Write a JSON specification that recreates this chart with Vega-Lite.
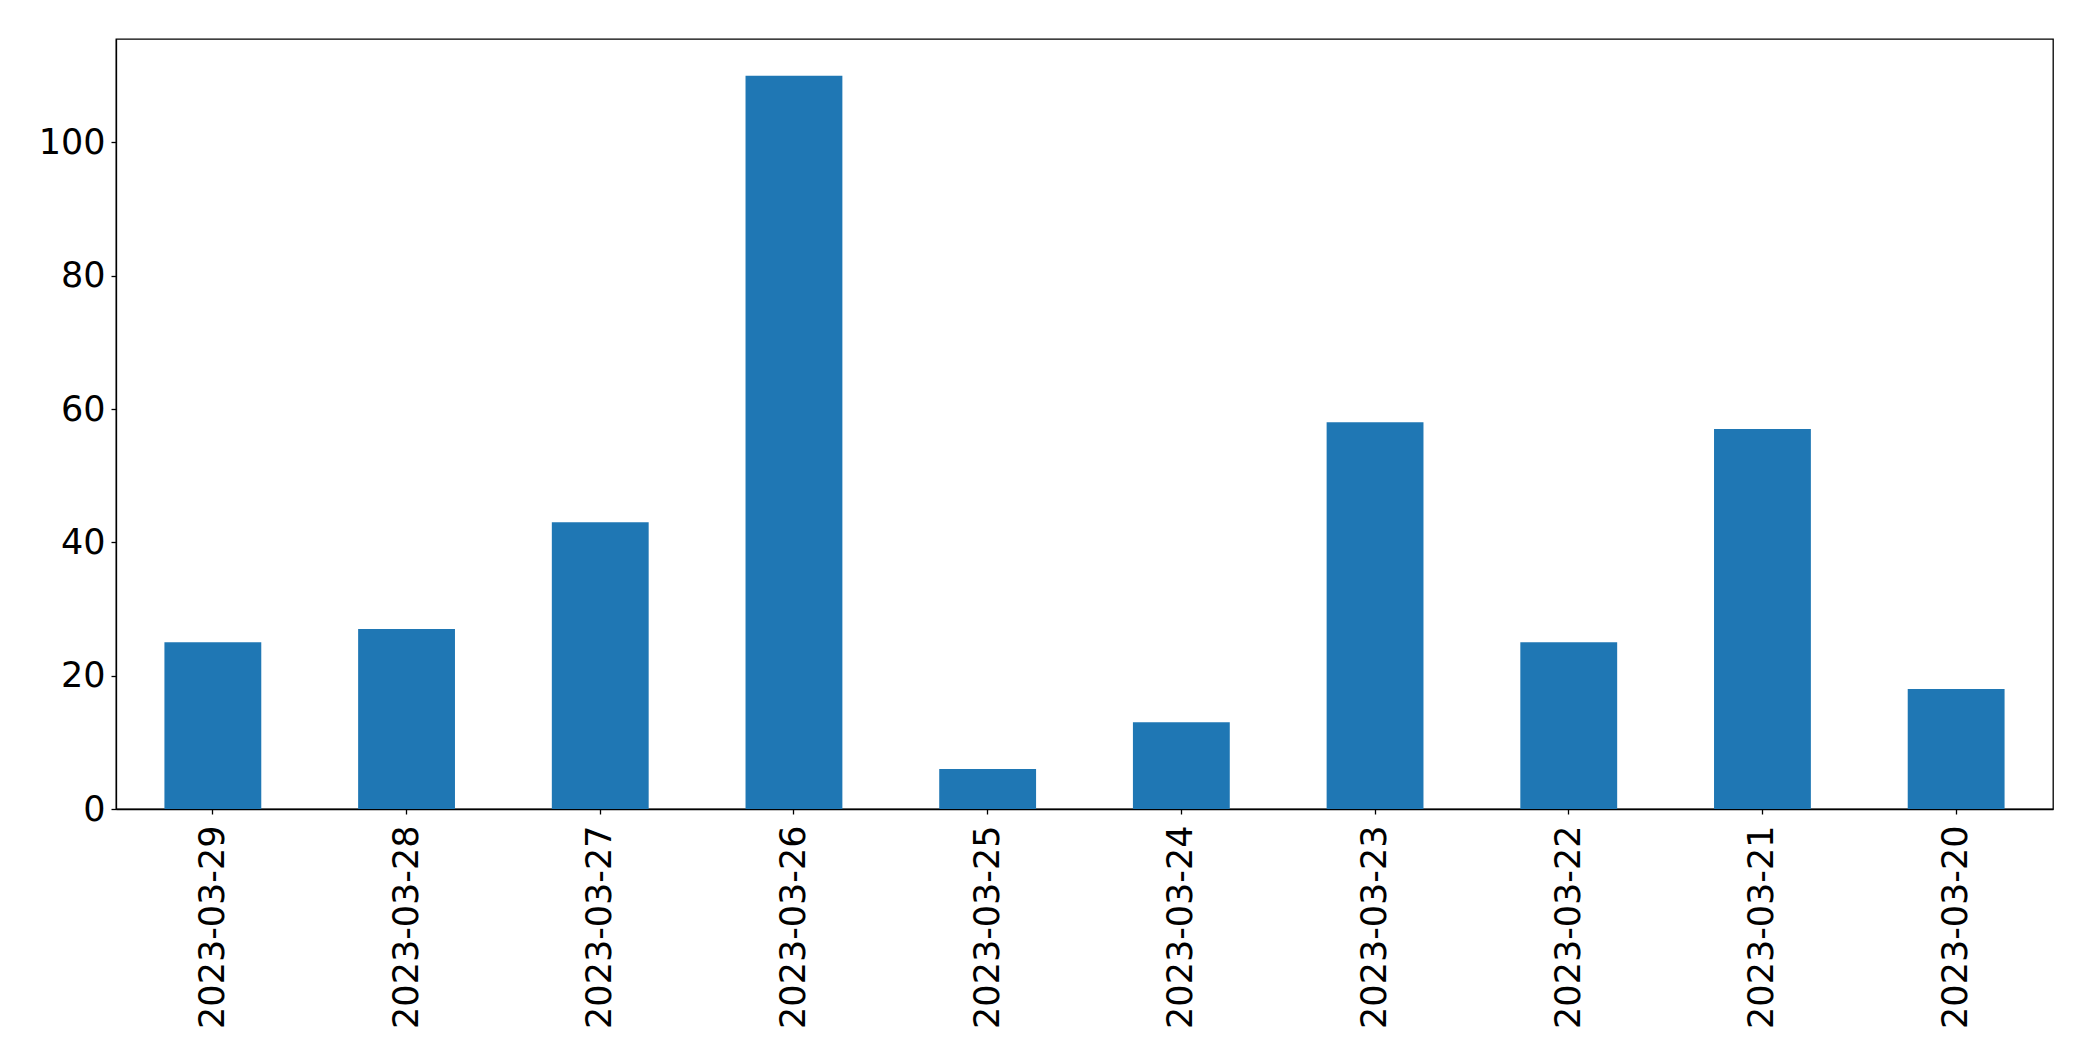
{
  "$schema": "https://vega.github.io/schema/vega-lite/v6.json",
  "autosize": {"type": "none"},
  "padding": {"left": 116, "top": 39, "right": 40, "bottom": 252},
  "width": 1937,
  "height": 770,
  "background": "white",
  "config": {
    "view": {"stroke": "black", "strokeWidth": 1.3},
    "font": "DejaVu Sans",
    "axis": {
      "grid": false,
      "domainColor": "black",
      "domainWidth": 1.3,
      "tickColor": "black",
      "tickWidth": 1.3,
      "tickSize": 5,
      "labelFont": "DejaVu Sans",
      "labelFontSize": 35,
      "labelColor": "black",
      "labelLimit": 0,
      "title": null
    }
  },
  "data": {
    "values": [
      {"date": "2023-03-29", "count": 25},
      {"date": "2023-03-28", "count": 27},
      {"date": "2023-03-27", "count": 43},
      {"date": "2023-03-26", "count": 110},
      {"date": "2023-03-25", "count": 6},
      {"date": "2023-03-24", "count": 13},
      {"date": "2023-03-23", "count": 58},
      {"date": "2023-03-22", "count": 25},
      {"date": "2023-03-21", "count": 57},
      {"date": "2023-03-20", "count": 18}
    ]
  },
  "mark": {"type": "bar", "color": "#1f77b4"},
  "encoding": {
    "x": {
      "field": "date",
      "type": "nominal",
      "sort": null,
      "scale": {"paddingInner": 0.5, "paddingOuter": 0.25},
      "axis": {"labelAngle": -90, "labelPadding": 11, "labelAlign": "right", "labelBaseline": "middle", "labelLimit": 0}
    },
    "y": {
      "field": "count",
      "type": "quantitative",
      "scale": {"domain": [0, 115.5], "nice": false, "zero": true},
      "axis": {"values": [0, 20, 40, 60, 80, 100], "labelPadding": 6}
    }
  }
}
